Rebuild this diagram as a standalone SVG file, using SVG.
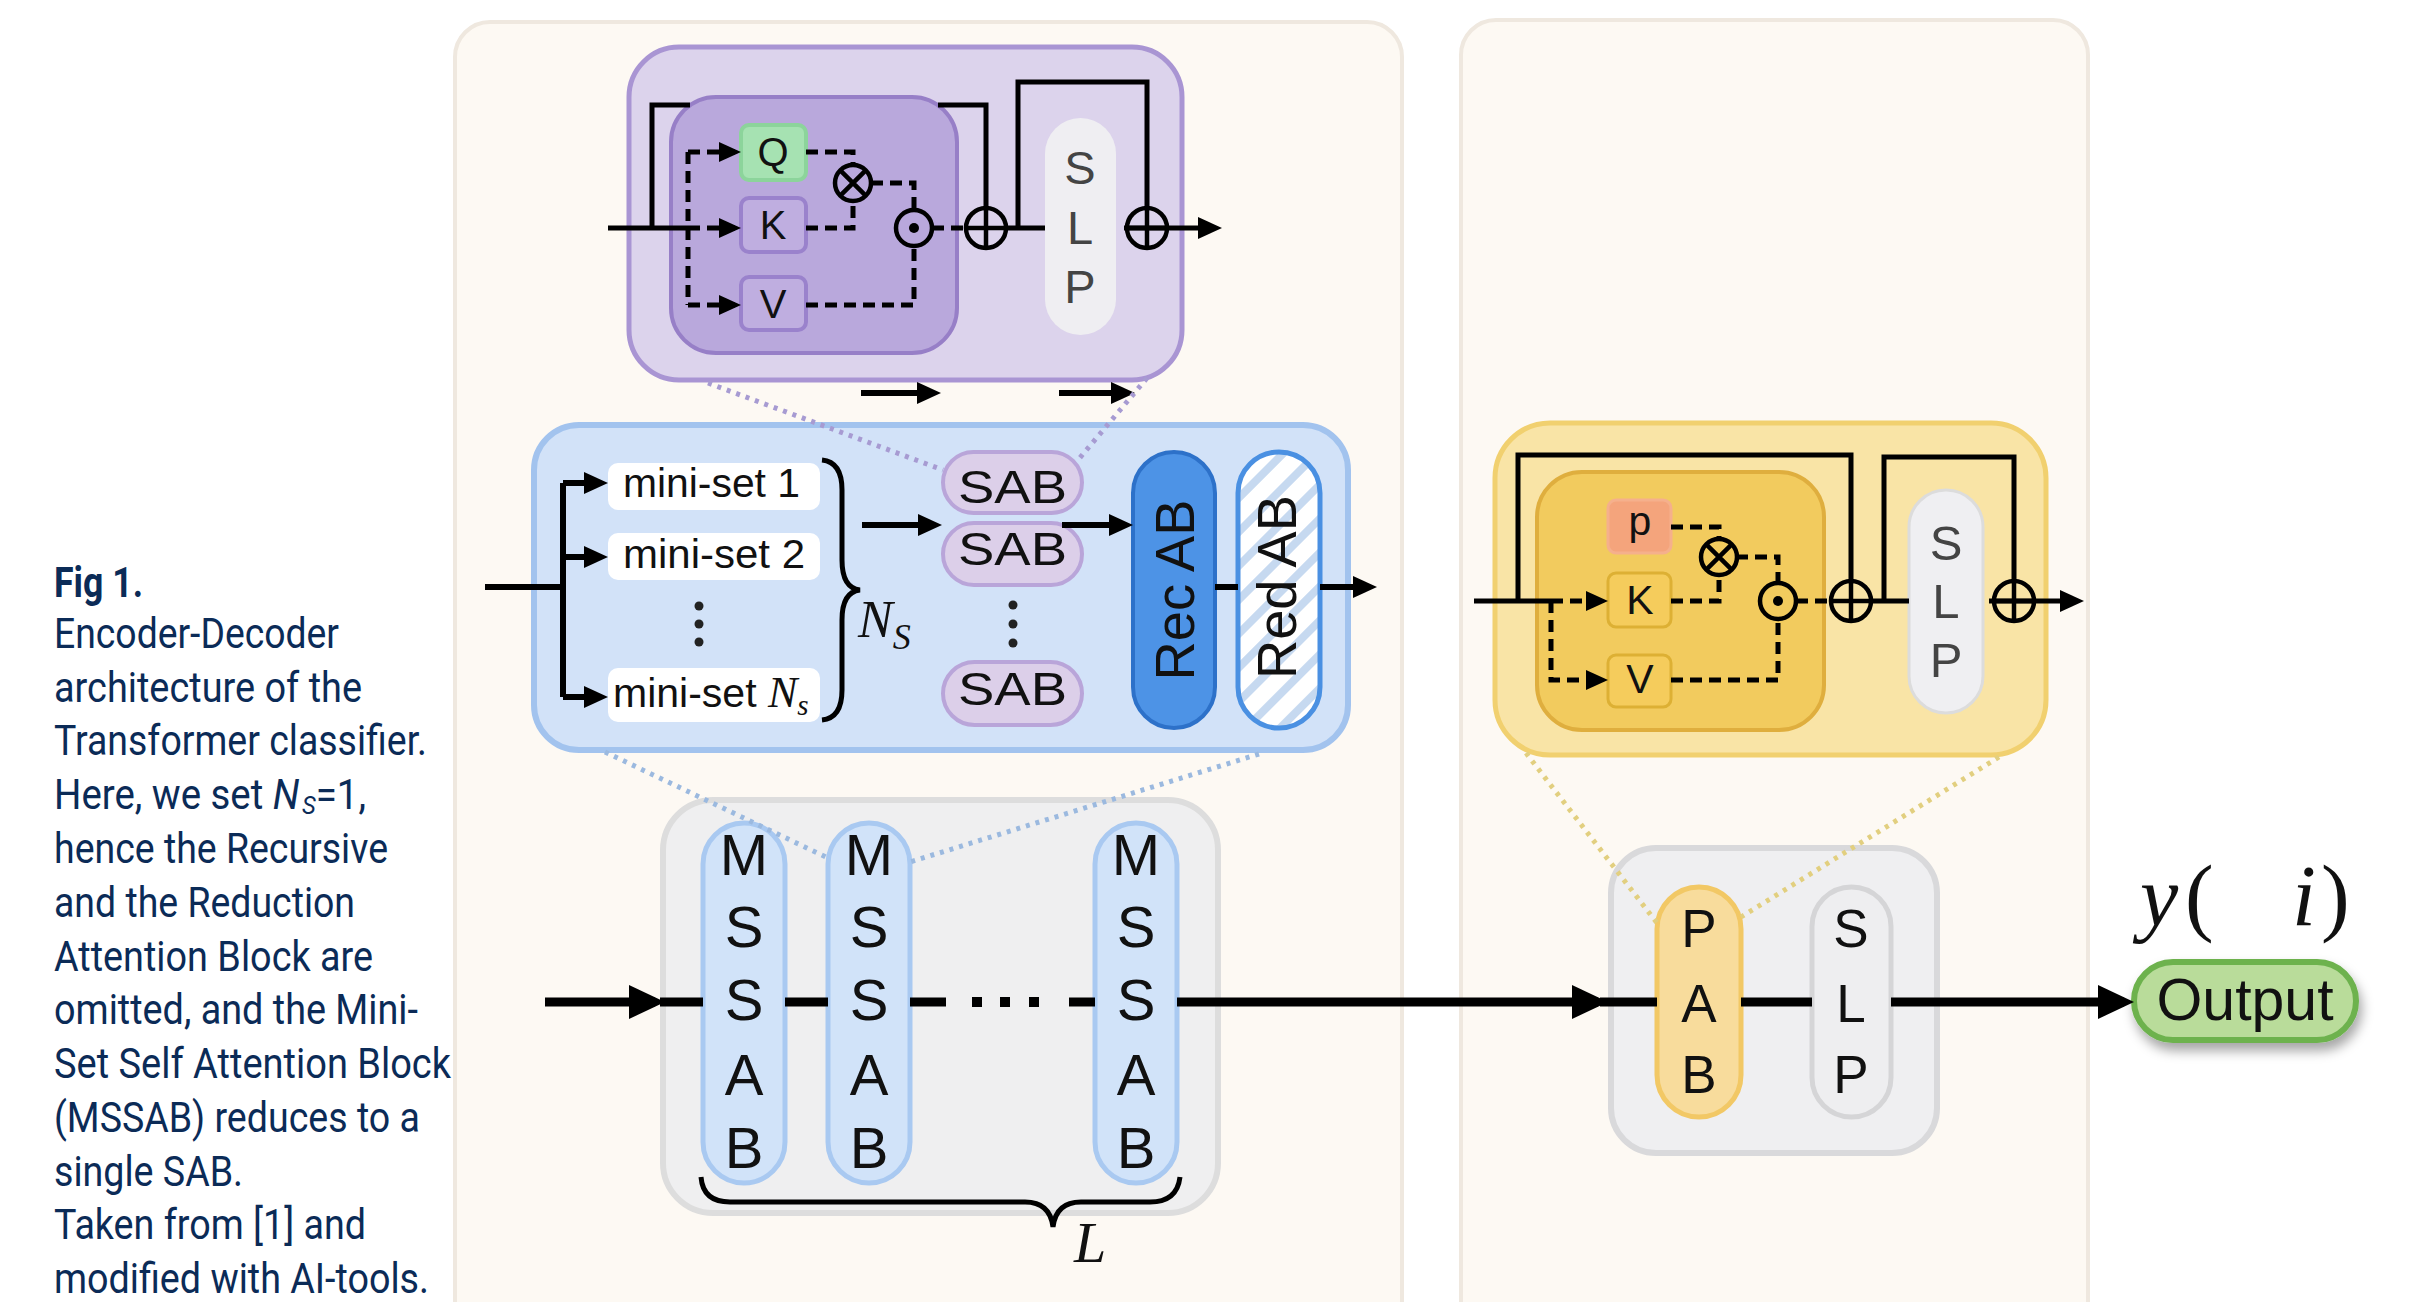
<svg xmlns="http://www.w3.org/2000/svg" width="2413" height="1302" viewBox="0 0 2413 1302">
<defs>
<style>
.cap{font-family:Roboto,"Liberation Sans",sans-serif;font-size:42px;fill:#0b2b57}
.sans{font-family:"Liberation Sans",Arial,sans-serif;fill:#111}
.gray{fill:#444}
.serif{font-family:"Liberation Serif","Times New Roman",serif;font-style:italic;fill:#111}
.up{font-style:normal}
.mid{text-anchor:middle}
.ln{fill:none;stroke:#000;stroke-width:5}
.ln6{fill:none;stroke:#000;stroke-width:6}
.ln9{fill:none;stroke:#000;stroke-width:9}
.dl{fill:none;stroke:#000;stroke-width:5;stroke-dasharray:12 7}
.op{fill:none;stroke:#000;stroke-width:4.5}
.dotp{fill:none;stroke:#a79bd2;stroke-width:5;stroke-dasharray:4 6}
.dotb{fill:none;stroke:#9bb9df;stroke-width:5;stroke-dasharray:4 6}
.doty{fill:none;stroke:#e2cf7f;stroke-width:5;stroke-dasharray:4 6}
.panel{fill:#fdf9f3;stroke:#efe8df;stroke-width:4}
</style>
<marker id="ahS" markerUnits="userSpaceOnUse" markerWidth="22" markerHeight="20" refX="16" refY="10" orient="auto"><path d="M0,0 L22,10 L0,20 Z" fill="#000"/></marker>
<marker id="ahM" markerUnits="userSpaceOnUse" markerWidth="24" markerHeight="22" refX="16" refY="11" orient="auto"><path d="M0,0 L24,11 L0,22 Z" fill="#000"/></marker>
<marker id="ahL" markerUnits="userSpaceOnUse" markerWidth="36" markerHeight="34" refX="26" refY="17" orient="auto"><path d="M0,0 L36,17 L0,34 Z" fill="#000"/></marker>
<pattern id="hatch" patternUnits="userSpaceOnUse" width="24" height="24" patternTransform="rotate(45)">
<rect width="24" height="24" fill="#ffffff"/>
<rect x="0" y="0" width="8" height="24" fill="#c6d9f0"/>
</pattern>
<filter id="sh" x="-20%" y="-30%" width="140%" height="190%"><feDropShadow dx="3" dy="8" stdDeviation="6" flood-color="#000" flood-opacity="0.35"/></filter>
<g id="otimes"><circle r="18" class="op"/><path d="M-12.7,-12.7 L12.7,12.7 M12.7,-12.7 L-12.7,12.7" class="op"/></g>
<g id="odot"><circle r="18" class="op"/><circle r="5" fill="#000"/></g>
<g id="oplus"><circle r="20" class="op"/><path d="M0,-20 V20 M-20,0 H20" class="op"/></g>
</defs>

<rect width="2413" height="1302" fill="#ffffff"/>

<g id="caption">
<text class="cap" x="54" y="597" font-weight="700" textLength="89" lengthAdjust="spacingAndGlyphs">Fig 1.</text>
<text class="cap" x="54" y="648" textLength="285" lengthAdjust="spacingAndGlyphs">Encoder-Decoder</text>
<text class="cap" x="54" y="702" textLength="308" lengthAdjust="spacingAndGlyphs">architecture of the</text>
<text class="cap" x="54" y="755" textLength="373" lengthAdjust="spacingAndGlyphs">Transformer classifier.</text>
<text class="cap" x="54" y="809" textLength="312" lengthAdjust="spacingAndGlyphs">Here, we set <tspan font-style="italic">N</tspan><tspan font-style="italic" font-size="26" dx="3" dy="5">S</tspan><tspan dy="-5">=1,</tspan></text>
<text class="cap" x="54" y="863" textLength="334" lengthAdjust="spacingAndGlyphs">hence the Recursive</text>
<text class="cap" x="54" y="917" textLength="301" lengthAdjust="spacingAndGlyphs">and the Reduction</text>
<text class="cap" x="54" y="971" textLength="319" lengthAdjust="spacingAndGlyphs">Attention Block are</text>
<text class="cap" x="54" y="1024" textLength="364" lengthAdjust="spacingAndGlyphs">omitted, and the Mini-</text>
<text class="cap" x="54" y="1078" textLength="397" lengthAdjust="spacingAndGlyphs">Set Self Attention Block</text>
<text class="cap" x="54" y="1132" textLength="366" lengthAdjust="spacingAndGlyphs">(MSSAB) reduces to a</text>
<text class="cap" x="54" y="1186" textLength="189" lengthAdjust="spacingAndGlyphs">single SAB.</text>
<text class="cap" x="54" y="1239" textLength="312" lengthAdjust="spacingAndGlyphs">Taken from [1] and</text>
<text class="cap" x="54" y="1293" textLength="375" lengthAdjust="spacingAndGlyphs">modified with AI-tools.</text>
</g>

<g id="encoder-panel"><rect class="panel" x="455" y="22" width="947" height="1330" rx="35"/></g>
<g id="decoder-panel"><rect class="panel" x="1461" y="20" width="627" height="1330" rx="35"/></g>

<!-- SAB detail (purple) -->
<g id="sab-detail">
<rect x="629" y="47" width="553" height="333" rx="50" fill="#dcd3ec" stroke="#a995d3" stroke-width="5"/>
<rect x="671" y="97" width="286" height="256" rx="45" fill="#b9a8dc" stroke="#977fc7" stroke-width="4"/>
<rect x="1045" y="118" width="71" height="217" rx="35.5" fill="#efeef2"/>
<text class="sans gray mid" x="1080" y="184" font-size="47">S</text>
<text class="sans gray mid" x="1080" y="244" font-size="47">L</text>
<text class="sans gray mid" x="1080" y="303" font-size="47">P</text>
</g>
<g id="sab-q"><rect x="741" y="125" width="65" height="55" rx="8" fill="#a6e2b2" stroke="#8cd49b" stroke-width="4"/><text class="sans mid" x="773" y="166" font-size="40">Q</text></g>
<g id="sab-k"><rect x="741" y="198" width="65" height="54" rx="8" fill="#bfaee0" stroke="#9a82cc" stroke-width="4"/><text class="sans mid" x="773" y="239" font-size="40">K</text></g>
<g id="sab-v"><rect x="741" y="277" width="65" height="53" rx="8" fill="#bfaee0" stroke="#9a82cc" stroke-width="4"/><text class="sans mid" x="773" y="318" font-size="40">V</text></g>

<!-- Encoder (blue) -->
<g id="encoder-block">
<rect x="534" y="425" width="814" height="325" rx="45" fill="#d2e2f8" stroke="#a2c3ee" stroke-width="6"/>
</g>
<g id="miniset-1"><rect x="608" y="463" width="212" height="47" rx="10" fill="#ffffff"/><text class="sans" x="623" y="497" font-size="41" fill="#222" textLength="177" lengthAdjust="spacingAndGlyphs">mini-set 1</text></g>
<g id="miniset-2"><rect x="608" y="533" width="212" height="47" rx="10" fill="#ffffff"/><text class="sans" x="623" y="568" font-size="41" fill="#222" textLength="182" lengthAdjust="spacingAndGlyphs">mini-set 2</text></g>
<g id="miniset-dots"><circle cx="699" cy="606" r="4.5" fill="#222"/><circle cx="699" cy="624" r="4.5" fill="#222"/><circle cx="699" cy="642" r="4.5" fill="#222"/></g>
<g id="miniset-n"><rect x="608" y="668" width="212" height="54" rx="10" fill="#ffffff"/><text class="sans" x="613" y="707" font-size="41" fill="#222">mini-set <tspan class="serif" font-size="44">N</tspan><tspan class="serif" font-size="29" dy="8">s</tspan></text></g>
<g id="ns-brace">
<path d="M822,460 Q842,462 842,490 V560 Q842,588 860,590 Q842,592 842,620 V690 Q842,718 822,720" class="ln"/>
<text class="serif" x="858" y="637" font-size="52">N<tspan font-size="36" dy="12">S</tspan></text>
</g>
<g id="sab-1"><rect x="943" y="452" width="139" height="61" rx="30.5" fill="#dccfe9" stroke="#b9a5d9" stroke-width="4"/><text class="sans" x="958" y="503" font-size="47" textLength="109" lengthAdjust="spacingAndGlyphs">SAB</text></g>
<g id="sab-2"><rect x="943" y="523" width="139" height="62" rx="31" fill="#dccfe9" stroke="#b9a5d9" stroke-width="4"/><text class="sans" x="958" y="565" font-size="47" textLength="109" lengthAdjust="spacingAndGlyphs">SAB</text></g>
<g id="sab-dots"><circle cx="1013" cy="605" r="4.5" fill="#222"/><circle cx="1013" cy="624" r="4.5" fill="#222"/><circle cx="1013" cy="643" r="4.5" fill="#222"/></g>
<g id="sab-n"><rect x="943" y="662" width="139" height="63" rx="31.5" fill="#dccfe9" stroke="#b9a5d9" stroke-width="4"/><text class="sans" x="958" y="705" font-size="47" textLength="109" lengthAdjust="spacingAndGlyphs">SAB</text></g>
<g id="rec-ab"><rect x="1133" y="452" width="82" height="276" rx="41" fill="#4d93e6" stroke="#2d71c9" stroke-width="4"/><text class="sans mid" x="1174" y="610" font-size="56" textLength="181" lengthAdjust="spacingAndGlyphs" transform="rotate(-90 1174 590)">Rec AB</text></g>
<g id="red-ab"><rect x="1238" y="452" width="82" height="276" rx="41" fill="url(#hatch)" stroke="#4a90e2" stroke-width="5"/><text class="sans mid" x="1276" y="607" font-size="56" textLength="184" lengthAdjust="spacingAndGlyphs" transform="rotate(-90 1276 587)">Red AB</text></g>

<!-- MSSAB stack -->
<g id="mssab-block"><rect x="663" y="800" width="555" height="413" rx="50" fill="#efeff0" stroke="#dddddd" stroke-width="6"/></g>
<g id="mssab-1"><rect x="703" y="823" width="82" height="360" rx="41" fill="#d1e3f9" stroke="#a9c9f1" stroke-width="5"/>
<text class="sans mid" x="744" y="875" font-size="58">M</text><text class="sans mid" x="744" y="947" font-size="58">S</text><text class="sans mid" x="744" y="1020" font-size="58">S</text><text class="sans mid" x="744" y="1095" font-size="58">A</text><text class="sans mid" x="744" y="1168" font-size="58">B</text></g>
<g id="mssab-2"><rect x="828" y="823" width="82" height="360" rx="41" fill="#d1e3f9" stroke="#a9c9f1" stroke-width="5"/>
<text class="sans mid" x="869" y="875" font-size="58">M</text><text class="sans mid" x="869" y="947" font-size="58">S</text><text class="sans mid" x="869" y="1020" font-size="58">S</text><text class="sans mid" x="869" y="1095" font-size="58">A</text><text class="sans mid" x="869" y="1168" font-size="58">B</text></g>
<g id="mssab-l"><rect x="1095" y="823" width="82" height="360" rx="41" fill="#d1e3f9" stroke="#a9c9f1" stroke-width="5"/>
<text class="sans mid" x="1136" y="875" font-size="58">M</text><text class="sans mid" x="1136" y="947" font-size="58">S</text><text class="sans mid" x="1136" y="1020" font-size="58">S</text><text class="sans mid" x="1136" y="1095" font-size="58">A</text><text class="sans mid" x="1136" y="1168" font-size="58">B</text></g>
<g id="l-brace">
<path d="M701,1177 Q703,1202 730,1202 H1025 Q1050,1202 1053,1227 Q1056,1202 1081,1202 H1150 Q1177,1202 1180,1177" class="ln"/>
<text class="serif" x="1074" y="1262" font-size="58">L</text>
</g>

<!-- PAB detail (yellow) -->
<g id="pab-detail">
<rect x="1495" y="423" width="551" height="332" rx="55" fill="#f9e4a6" stroke="#f1d06f" stroke-width="5"/>
<rect x="1537" y="472" width="287" height="258" rx="45" fill="#f2cb5e" stroke="#dfae3e" stroke-width="4"/>
<rect x="1909" y="490" width="74" height="223" rx="37" fill="#efeff2" stroke="#dcdcdc" stroke-width="3"/>
<text class="sans gray mid" x="1946" y="560" font-size="49">S</text>
<text class="sans gray mid" x="1946" y="618" font-size="49">L</text>
<text class="sans gray mid" x="1946" y="677" font-size="49">P</text>
</g>
<g id="pab-p"><rect x="1608" y="500" width="63" height="53" rx="8" fill="#f4a47c" stroke="#f5b08c" stroke-width="3"/><text class="sans mid" x="1640" y="535" font-size="41">p</text></g>
<g id="pab-k"><rect x="1608" y="573" width="63" height="54" rx="8" fill="#f5cc5c" stroke="#ddb034" stroke-width="3"/><text class="sans mid" x="1640" y="614" font-size="41">K</text></g>
<g id="pab-v"><rect x="1608" y="655" width="63" height="52" rx="8" fill="#f5cc5c" stroke="#ddb034" stroke-width="3"/><text class="sans mid" x="1640" y="693" font-size="41">V</text></g>

<!-- Decoder -->
<g id="decoder-block"><rect x="1611" y="848" width="326" height="305" rx="45" fill="#efeff1" stroke="#d9d9db" stroke-width="6"/></g>
<g id="pab"><rect x="1657" y="887" width="84" height="230" rx="42" fill="#f8dc9c" stroke="#f2c865" stroke-width="5"/>
<text class="sans mid" x="1699" y="947" font-size="53">P</text><text class="sans mid" x="1699" y="1022" font-size="53">A</text><text class="sans mid" x="1699" y="1093" font-size="53">B</text></g>
<g id="slp"><rect x="1812" y="887" width="79" height="230" rx="39.5" fill="#eeeef0" stroke="#d5d5d7" stroke-width="5"/>
<text class="sans mid" x="1851" y="947" font-size="53" fill="#333">S</text><text class="sans mid" x="1851" y="1022" font-size="53" fill="#333">L</text><text class="sans mid" x="1851" y="1093" font-size="53" fill="#333">P</text></g>
<g id="output"><rect x="2134" y="962" width="222" height="78" rx="39" fill="#b9dc9a" stroke="#6db24e" stroke-width="6" filter="url(#sh)"/><text class="sans mid" x="2245" y="1020" font-size="59">Output</text></g>
<g id="y-label">
<text class="serif" x="2140" y="925" font-size="86" fill="#222">y</text>
<text class="serif up" x="2185" y="925" font-size="86" fill="#222">(</text>
<text class="serif" x="2292" y="925" font-size="86" fill="#222">i</text>
<text class="serif up" x="2321" y="925" font-size="86" fill="#222">)</text>
</g>

<g id="connectors">
<!-- purple SAB detail -->
<path d="M608,228 H688" class="ln"/>
<path d="M652,228 V105 H690 M938,105 H986 V208" class="ln"/>
<path d="M688,152 V305" class="dl"/>
<path d="M688,152 H735" class="dl" marker-end="url(#ahS)"/>
<path d="M688,228 H735" class="dl" marker-end="url(#ahS)"/>
<path d="M688,305 H735" class="dl" marker-end="url(#ahS)"/>
<path d="M806,152 H853 V165" class="dl"/>
<path d="M806,228 H853 V201" class="dl"/>
<path d="M871,183 H914 V210" class="dl"/>
<path d="M806,305 H914 V246" class="dl"/>
<path d="M932,228 H966" class="dl"/>
<path d="M1006,228 H1045" class="ln"/>
<path d="M1018,228 V82 H1147 V208" class="ln"/>
<path d="M1124,228 H1214" class="ln" marker-end="url(#ahM)"/>
<path d="M861,393 H933" class="ln6" marker-end="url(#ahM)"/>
<path d="M1059,393 H1127" class="ln6" marker-end="url(#ahM)"/>
<path d="M708,383 L943,470" class="dotp"/>
<path d="M1147,378 L1078,460" class="dotp"/>
<!-- encoder -->
<path d="M485,587 H563" class="ln6"/>
<path d="M563,483 V697" class="ln6"/>
<path d="M563,483 H600" class="ln6" marker-end="url(#ahM)"/>
<path d="M563,557 H600" class="ln6" marker-end="url(#ahM)"/>
<path d="M563,697 H600" class="ln6" marker-end="url(#ahM)"/>
<path d="M862,525 H934" class="ln6" marker-end="url(#ahM)"/>
<path d="M1062,525 H1125" class="ln6" marker-end="url(#ahM)"/>
<path d="M1215,587 H1238" class="ln6"/>
<path d="M1320,587 H1369" class="ln6" marker-end="url(#ahM)"/>
<path d="M605,752 L828,858" class="dotb"/>
<path d="M1259,754 L910,862" class="dotb"/>
<!-- main line -->
<path d="M545,1002 H655" class="ln9" marker-end="url(#ahL)"/>
<path d="M660,1002 H703" class="ln9"/>
<path d="M785,1002 H828" class="ln9"/>
<path d="M910,1002 H946" class="ln9"/>
<rect x="972" y="997" width="10" height="10" fill="#000"/>
<rect x="1000" y="997" width="10" height="10" fill="#000"/>
<rect x="1029" y="997" width="10" height="10" fill="#000"/>
<path d="M1069,1002 H1095" class="ln9"/>
<path d="M1177,1002 H1598" class="ln9" marker-end="url(#ahL)"/>
<path d="M1600,1002 H1657" class="ln9"/>
<path d="M1741,1002 H1812" class="ln9"/>
<path d="M1891,1002 H2124" class="ln9" marker-end="url(#ahL)"/>
<!-- yellow PAB detail -->
<path d="M1474,601 H1551" class="ln"/>
<path d="M1518,601 V455 H1851 V581" class="ln"/>
<path d="M1551,601 H1602" class="dl" marker-end="url(#ahS)"/>
<path d="M1551,601 V680 H1602" class="dl" marker-end="url(#ahS)"/>
<path d="M1671,527 H1719 V540" class="dl"/>
<path d="M1671,601 H1719 V574" class="dl"/>
<path d="M1736,557 H1778 V583" class="dl"/>
<path d="M1671,680 H1778 V619" class="dl"/>
<path d="M1796,601 H1832" class="dl"/>
<path d="M1870,601 H1909" class="ln"/>
<path d="M1884,601 V457 H2014 V582" class="ln"/>
<path d="M1989,601 H2076" class="ln" marker-end="url(#ahM)"/>
<path d="M1526,753 L1657,923" class="doty"/>
<path d="M1999,757 L1741,917" class="doty"/>
</g>

<g id="op-sab-mul"><use href="#otimes" x="853" y="183"/></g>
<g id="op-sab-had"><use href="#odot" x="914" y="228"/></g>
<g id="op-sab-add1"><use href="#oplus" x="986" y="228"/></g>
<g id="op-sab-add2"><use href="#oplus" x="1147" y="228"/></g>
<g id="op-pab-mul"><use href="#otimes" x="1719" y="557"/></g>
<g id="op-pab-had"><use href="#odot" x="1778" y="601"/></g>
<g id="op-pab-add1"><use href="#oplus" x="1851" y="601"/></g>
<g id="op-pab-add2"><use href="#oplus" x="2014" y="601"/></g>
</svg>
